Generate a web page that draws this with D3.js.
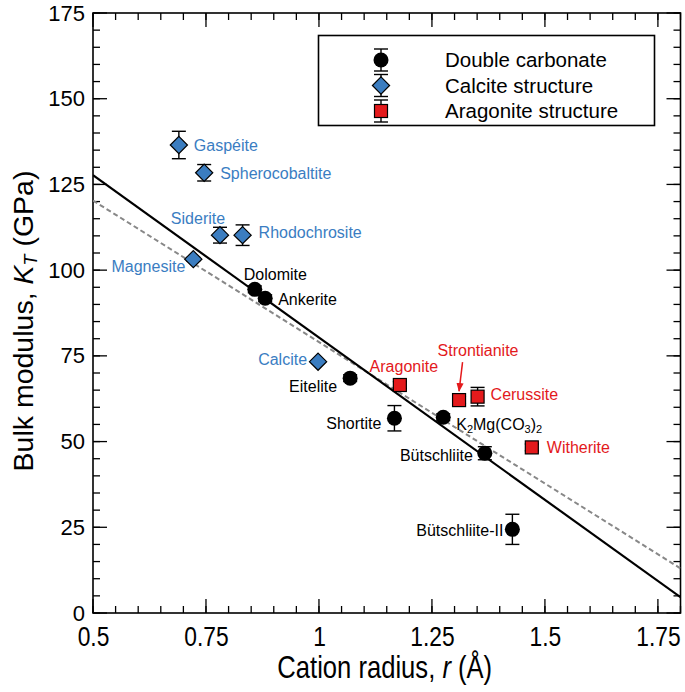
<!DOCTYPE html>
<html><head><meta charset="utf-8">
<script src="https://cdn.jsdelivr.net/npm/d3@7"></script>
<style>
body{margin:0;background:#fff;}
svg{display:block;font-family:"Liberation Sans",Arial,sans-serif;}
</style></head>
<body><svg id="chart" width="685" height="692"></svg>
<script>
// ---------- data ----------
const doubleNames = ["Dolomite","Ankerite","Eitelite","Shortite","K2Mg(CO3)2","Bütschliite","Bütschliite-II"];
const doubleR     = [0.858, 0.881, 1.069, 1.167, 1.275, 1.367, 1.428];
const doubleK     = [94.4, 91.8, 68.5, 56.8, 57.1, 46.6, 24.4];
const doubleErr   = [1.0, 1.0, 1.0, 3.7, 1.0, 1.9, 4.4];

const calciteNames = ["Gaspéite","Spherocobaltite","Siderite","Rhodochrosite","Magnesite","Calcite"];
const calciteR     = [0.690, 0.746, 0.781, 0.831, 0.722, 0.998];
const calciteK     = [136.5, 128.4, 110.2, 110.2, 103.2, 73.3];
const calciteErr   = [4.0, 2.4, 2.3, 3.0, 0.5, 0.5];

const aragNames = ["Aragonite","Strontianite","Cerussite","Witherite"];
const aragR     = [1.179, 1.310, 1.351, 1.471];
const aragK     = [66.5, 62.1, 63.1, 48.3];
const aragErr   = [1.0, 1.0, 2.7, 1.0];

const fitSolidR  = [0.5, 1.8];
const fitSolidK  = [127.7, 4.6];
const fitDashedR = [0.5, 1.8];
const fitDashedK = [120.3, 13.0];

const xTicks = [0.5, 0.75, 1, 1.25, 1.5, 1.75];
const xTickLabels = ["0.5","0.75","1","1.25","1.5","1.75"];
const yTicks = [0, 25, 50, 75, 100, 125, 150, 175];
const legendLabels = ["Double carbonate","Calcite structure","Aragonite structure"];

// ---------- layout ----------
const svg = d3.select("#chart");
const L = 93, R = 680.5, T = 13, B = 613;
const x = d3.scaleLinear().domain([0.5, 1.8]).range([L, R]);
const y = d3.scaleLinear().domain([0, 175]).range([B, T]);

const BLUE = "#3b7dc0", RED = "#e41a1c", BLUE_T = "#3a7dc2", RED_T = "#e3191c";

// label layout (pixel offsets relative to marker): [dx, dy, anchor]
const labelPos = {
  "Gaspéite":[15,0,"start"], "Spherocobaltite":[16,1,"start"], "Siderite":[-22,-17,"middle"],
  "Rhodochrosite":[16,-3,"start"], "Magnesite":[-8,7,"end"], "Calcite":[-11,-2,"end"],
  "Dolomite":[-11,-15,"start"], "Ankerite":[13,1,"start"], "Eitelite":[-13,8,"end"],
  "Shortite":[-13,5,"end"], "K2Mg(CO3)2":[13,7,"start"], "Bütschliite":[-12,2,"end"],
  "Bütschliite-II":[-9,1,"end"], "Aragonite":[4,-19,"middle"], "Strontianite":[19,-50,"middle"],
  "Cerussite":[13,-2,"start"], "Witherite":[15,0,"start"]
};

// ---------- axes (ticks inward on all four sides) ----------
const minorX = d3.range(0.5, 1.8001, 0.05);
const minorY = d3.range(0, 175.001, 5);
function drawTicks(g, vals, len, orient){
  vals.forEach(v=>{
    let x1,y1,x2,y2;
    if(orient==="b"){x1=x2=x(v);y1=B;y2=B-len;}
    if(orient==="t"){x1=x2=x(v);y1=T;y2=T+len;}
    if(orient==="l"){y1=y2=y(v);x1=L;x2=L+len;}
    if(orient==="r"){y1=y2=y(v);x1=R;x2=R-len;}
    g.append("line").attr("x1",x1).attr("y1",y1).attr("x2",x2).attr("y2",y2)
      .attr("stroke","#000").attr("stroke-width",1.3);
  });
}
const tg = svg.append("g");
["b","t"].forEach(o=>{drawTicks(tg,minorX,7,o);drawTicks(tg,xTicks,14,o);});
["l","r"].forEach(o=>{drawTicks(tg,minorY,7,o);drawTicks(tg,yTicks,14,o);});

// x tick labels via d3 axis, condensed horizontally (narrow-font look)
const xAxis = d3.axisBottom(x).tickValues(xTicks).tickFormat((d,i)=>xTickLabels[i]).tickSize(0).tickPadding(0);
const gx = svg.append("g").attr("transform",`translate(0,${B})`).call(xAxis);
gx.select(".domain").remove();
gx.selectAll(".tick").each(function(){
  const tx = d3.select(this).select("text");
  tx.attr("font-family","'Liberation Sans',Arial,sans-serif").attr("font-size",28.5)
    .attr("fill","#000").attr("y",33).attr("dy",0).attr("transform","scale(0.8,1)");
});

const yAxis = d3.axisLeft(y).tickValues(yTicks).tickSize(0).tickPadding(8);
const gy = svg.append("g").attr("transform",`translate(${L},0)`).call(yAxis);
gy.select(".domain").remove();
gy.selectAll("text").attr("font-family","'Liberation Sans',Arial,sans-serif")
  .attr("font-size",22).attr("fill","#000");

// frame
svg.append("rect").attr("x",L).attr("y",T).attr("width",R-L).attr("height",B-T)
  .attr("fill","none").attr("stroke","#000").attr("stroke-width",1.6);

// axis titles
const xt = svg.append("g").attr("transform",`translate(${(L+R)/2-2},678) scale(0.8,1)`)
  .append("text").attr("x",0).attr("y",0).attr("text-anchor","middle").attr("font-size",32);
xt.append("tspan").text("Cation radius, ");
xt.append("tspan").attr("font-style","italic").text("r");
xt.append("tspan").text(" (Å)");

const yt = svg.append("text").attr("transform","translate(33,321) rotate(-90)").attr("text-anchor","middle")
  .attr("font-size",28.5);
yt.append("tspan").text("Bulk modulus, ");
yt.append("tspan").attr("font-style","italic").text("K");
yt.append("tspan").attr("font-style","italic").attr("font-size",18).attr("dy",4).text("T");
yt.append("tspan").attr("dy",-4).text(" (GPa)");

// ---------- fit lines ----------
svg.append("clipPath").attr("id","pc").append("rect")
  .attr("x",L).attr("y",T).attr("width",R-L).attr("height",B-T);
const line = d3.line().x(d=>x(d[0])).y(d=>y(d[1]));
svg.append("path").datum(fitDashedR.map((r,i)=>[r,fitDashedK[i]])).attr("d",line)
  .attr("clip-path","url(#pc)").attr("fill","none").attr("stroke","#888").attr("stroke-width",2).attr("stroke-dasharray","5,3");
svg.append("path").datum(fitSolidR.map((r,i)=>[r,fitSolidK[i]])).attr("d",line)
  .attr("clip-path","url(#pc)").attr("fill","none").attr("stroke","#000").attr("stroke-width",2.2);

// ---------- markers ----------
function errBar(g, cx, k, e){
  const cap = 7;
  const y1 = y(k+e), y2 = y(k-e);
  g.append("line").attr("x1",cx).attr("x2",cx).attr("y1",y1).attr("y2",y2).attr("stroke","#000").attr("stroke-width",1.4);
  [y1,y2].forEach(yy=>g.append("line").attr("x1",cx-cap).attr("x2",cx+cap).attr("y1",yy).attr("y2",yy)
    .attr("stroke","#000").attr("stroke-width",1.4));
}
function marker(g, type, cx, cy){
  if(type==="circle") g.append("circle").attr("cx",cx).attr("cy",cy).attr("r",7.5).attr("fill","#000");
  if(type==="diamond"){const h=8.6;
    g.append("path").attr("d",`M${cx},${cy-h}L${cx+h},${cy}L${cx},${cy+h}L${cx-h},${cy}Z`)
      .attr("fill",BLUE).attr("stroke","#000").attr("stroke-width",1.2);}
  if(type==="square"){const s=13;
    g.append("rect").attr("x",cx-s/2).attr("y",cy-s/2).attr("width",s).attr("height",s)
      .attr("fill",RED).attr("stroke","#000").attr("stroke-width",1.2);}
}
const groups = [
  {names:doubleNames,r:doubleR,k:doubleK,e:doubleErr,type:"circle",color:"#000"},
  {names:calciteNames,r:calciteR,k:calciteK,e:calciteErr,type:"diamond",color:BLUE_T},
  {names:aragNames,r:aragR,k:aragK,e:aragErr,type:"square",color:RED_T}
];
const mg = svg.append("g");
groups.forEach(gr=>{
  gr.r.forEach((r,i)=>{
    errBar(mg, x(r), gr.k[i], gr.e[i]);
    marker(mg, gr.type, x(r), y(gr.k[i]));
  });
});

// ---------- labels ----------
const lg = svg.append("g").attr("font-size",16);
groups.forEach(gr=>{
  gr.names.forEach((n,i)=>{
    const p = labelPos[n];
    const t = lg.append("text").attr("x",x(gr.r[i])+p[0]).attr("y",y(gr.k[i])+p[1])
      .attr("dy","0.35em").attr("text-anchor",p[2]).attr("fill",gr.color);
    if(n==="K2Mg(CO3)2"){
      t.append("tspan").text("K");
      t.append("tspan").attr("font-size",11).attr("dy",3).text("2");
      t.append("tspan").attr("dy",-3).text("Mg(CO");
      t.append("tspan").attr("font-size",11).attr("dy",3).text("3");
      t.append("tspan").attr("dy",-3).text(")");
      t.append("tspan").attr("font-size",11).attr("dy",3).text("2");
    } else t.text(n);
  });
});

// arrow to Strontianite
const si = aragNames.indexOf("Strontianite");
svg.append("defs").append("marker").attr("id","ah").attr("viewBox","0 0 10 10").attr("refX",9).attr("refY",5)
  .attr("markerWidth",6).attr("markerHeight",6).attr("orient","auto")
  .append("path").attr("d","M0,1L10,5L0,9Z").attr("fill",RED);
svg.append("line").attr("x1",x(aragR[si])+3.5).attr("y1",y(aragK[si])-38)
  .attr("x2",x(aragR[si])).attr("y2",y(aragK[si])-9)
  .attr("stroke",RED).attr("stroke-width",1.5).attr("marker-end","url(#ah)");

// ---------- legend ----------
const lgd = svg.append("g");
lgd.append("rect").attr("x",318.5).attr("y",35.5).attr("width",336).attr("height",90)
  .attr("fill","#fff").attr("stroke","#000").attr("stroke-width",1.6);
const legTypes = ["circle","diamond","square"];
legendLabels.forEach((lab,i)=>{
  const cy = 60 + i*25.5, cx = 381;
  const g = lgd.append("g");
  g.append("line").attr("x1",cx).attr("x2",cx).attr("y1",cy-11).attr("y2",cy+11).attr("stroke","#000").attr("stroke-width",1.4);
  [cy-11,cy+11].forEach(yy=>g.append("line").attr("x1",cx-7).attr("x2",cx+7).attr("y1",yy).attr("y2",yy).attr("stroke","#000").attr("stroke-width",1.4));
  marker(g, legTypes[i], cx, cy);
  lgd.append("text").attr("x",445).attr("y",cy).attr("dy","0.35em").attr("font-size",20.5).text(lab);
});
</script>
</body></html>
